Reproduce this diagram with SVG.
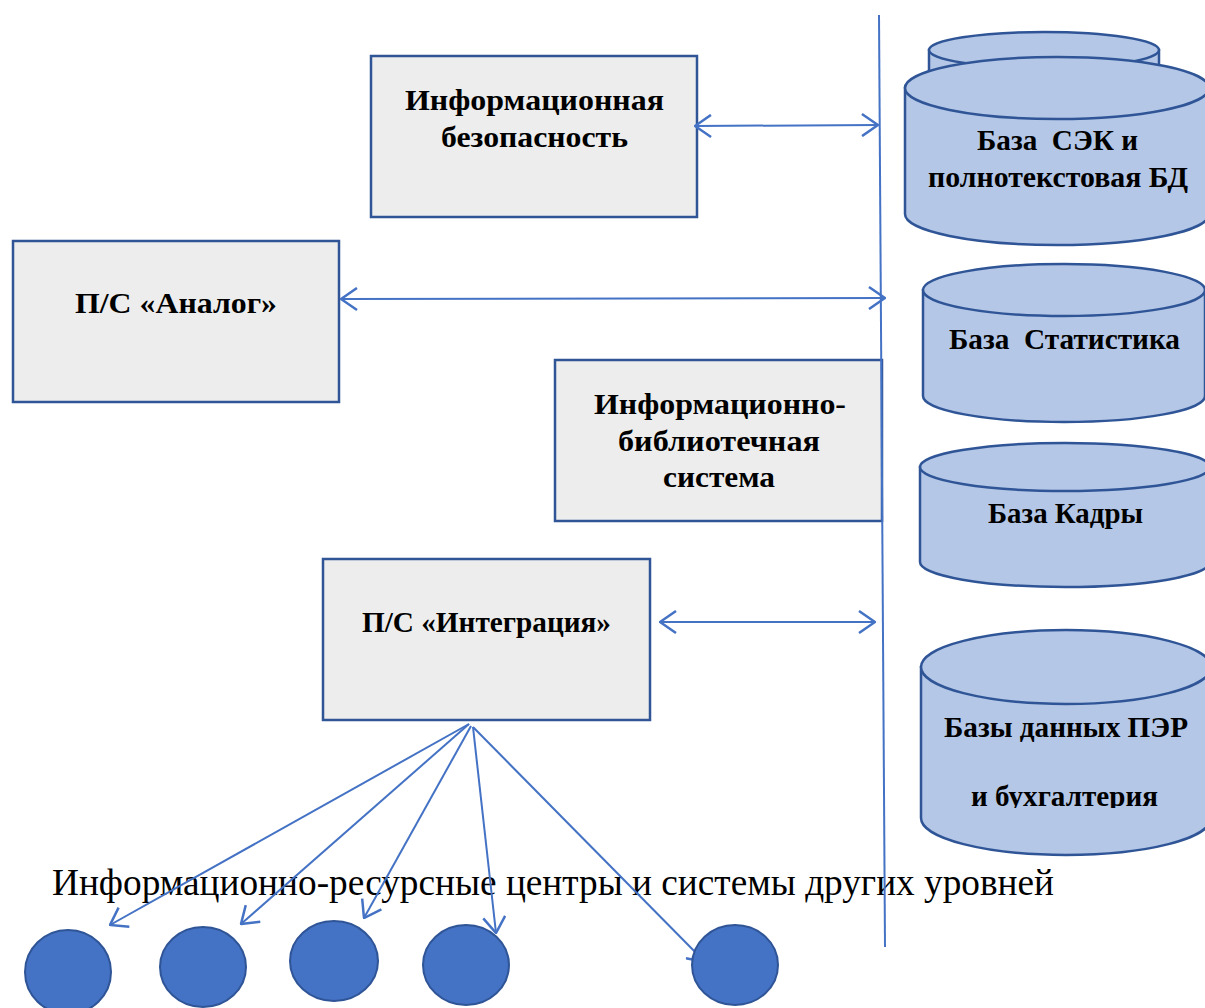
<svg xmlns="http://www.w3.org/2000/svg" width="1205" height="1008" viewBox="0 0 1205 1008">
<style>
.box{fill:#ededed;stroke:#2f5597;stroke-width:2.5}
.cyl{fill:#b4c7e7;stroke:#2f5597;stroke-width:2.5}
.lbl{font-family:'Liberation Serif','Times New Roman',serif;font-weight:700;font-size:29px;fill:#000;text-anchor:middle}
.cap{font-family:'Liberation Serif','Times New Roman',serif;font-size:37px;fill:#000}
.con{stroke:#4472c4;stroke-width:2;fill:none}
.dot{fill:#4472c4;stroke:#2f5597;stroke-width:2}
</style>
<defs>
<marker id="ah" viewBox="0 0 18 24" refX="17" refY="12" markerWidth="18" markerHeight="24" markerUnits="userSpaceOnUse" orient="auto-start-reverse">
<path d="M1,1 L17,12 L1,23" fill="none" stroke="#4472c4" stroke-width="2.5"/>
</marker>
<clipPath id="clipPER"><rect x="900" y="700" width="305" height="108"/></clipPath>
</defs>
<rect width="1205" height="1008" fill="#fff"/>

<g id="node-infosec">
<rect class="box" x="371" y="56" width="326" height="161"/>
<text class="lbl" x="534.5" y="110" textLength="259" lengthAdjust="spacingAndGlyphs">Информационная</text>
<text class="lbl" x="534.5" y="147" textLength="187" lengthAdjust="spacingAndGlyphs">безопасность</text>
</g>
<g id="node-analog">
<rect class="box" x="13" y="241" width="326" height="161"/>
<text class="lbl" x="176" y="313" textLength="202" lengthAdjust="spacingAndGlyphs">П/С «Аналог»</text>
</g>
<g id="node-ibs">
<rect class="box" x="555" y="360" width="327" height="161"/>
<text class="lbl" x="720" y="414" textLength="252" lengthAdjust="spacingAndGlyphs">Информационно-</text>
<text class="lbl" x="719" y="451" textLength="202" lengthAdjust="spacingAndGlyphs">библиотечная</text>
<text class="lbl" x="719" y="487" textLength="112" lengthAdjust="spacingAndGlyphs">система</text>
</g>
<g id="node-integr">
<rect class="box" x="323" y="559" width="327" height="161"/>
<text class="lbl" x="486.5" y="632" textLength="249" lengthAdjust="spacingAndGlyphs">П/С «Интеграция»</text>
</g>

<g id="node-db-sek">
<path class="cyl" d="M929,50 V100 H1159 V50 Z"/>
<ellipse class="cyl" cx="1044" cy="50" rx="115" ry="18"/>
<path class="cyl" d="M905,88 V214 A152,31 0 0 0 1209,214 V88 Z"/>
<ellipse class="cyl" cx="1057" cy="88" rx="152" ry="31"/>
<text class="lbl" x="1057.5" y="150" xml:space="preserve" textLength="161" lengthAdjust="spacingAndGlyphs">База  СЭК и</text>
<text class="lbl" x="1058" y="187" textLength="260" lengthAdjust="spacingAndGlyphs">полнотекстовая БД</text>
</g>
<g id="node-db-stat">
<path class="cyl" d="M923,290 V396 A141,26 0 0 0 1205,396 V290 Z"/>
<ellipse class="cyl" cx="1064" cy="290" rx="141" ry="26"/>
<text class="lbl" x="1064.5" y="349" xml:space="preserve" textLength="231" lengthAdjust="spacingAndGlyphs">База  Статистика</text>
</g>
<g id="node-db-kadry">
<path class="cyl" d="M920,467 V562 A145,25 0 0 0 1210,562 V467 Z"/>
<ellipse class="cyl" cx="1065" cy="467" rx="145" ry="24"/>
<text class="lbl" x="1065.5" y="523" textLength="155" lengthAdjust="spacingAndGlyphs">База Кадры</text>
</g>
<g id="node-db-per">
<path class="cyl" d="M921,667 V818 A145,37 0 0 0 1211,818 V667 Z"/>
<ellipse class="cyl" cx="1066" cy="667" rx="145" ry="37"/>
<text class="lbl" x="1066" y="737" textLength="244" lengthAdjust="spacingAndGlyphs">Базы данных ПЭР</text>
<text class="lbl" x="1064.5" y="806" clip-path="url(#clipPER)" textLength="187" lengthAdjust="spacingAndGlyphs">и бухгалтерия</text>
</g>

<g id="caption">
<text class="cap" x="52" y="895" textLength="1002" lengthAdjust="spacingAndGlyphs">Информационно-ресурсные центры и системы других уровней</text>
</g>

<g id="connectors">
<line class="con" x1="879" y1="15" x2="885" y2="947" stroke-width="1.5"/>
<line class="con" x1="695" y1="126" x2="878" y2="125" marker-start="url(#ah)" marker-end="url(#ah)"/>
<line class="con" x1="341" y1="299" x2="885" y2="298" marker-start="url(#ah)" marker-end="url(#ah)"/>
<line class="con" x1="660" y1="622" x2="875" y2="622" marker-start="url(#ah)" marker-end="url(#ah)"/>
<line class="con" x1="469" y1="724" x2="110" y2="925" marker-end="url(#ah)"/>
<line class="con" x1="469" y1="724" x2="241" y2="924" marker-end="url(#ah)"/>
<line class="con" x1="471" y1="726" x2="364" y2="918" marker-end="url(#ah)"/>
<line class="con" x1="473" y1="727" x2="496" y2="933" marker-end="url(#ah)"/>
<line class="con" x1="473" y1="727" x2="705" y2="962" marker-end="url(#ah)"/>
</g>

<g id="node-c1"><ellipse class="dot" cx="68" cy="972" rx="43" ry="42"/></g>
<g id="node-c2"><ellipse class="dot" cx="203" cy="967" rx="43" ry="40"/></g>
<g id="node-c3"><ellipse class="dot" cx="334" cy="961" rx="44" ry="40"/></g>
<g id="node-c4"><ellipse class="dot" cx="466" cy="965" rx="43" ry="40"/></g>
<g id="node-c5"><ellipse class="dot" cx="735" cy="965" rx="43" ry="40"/></g>
</svg>
